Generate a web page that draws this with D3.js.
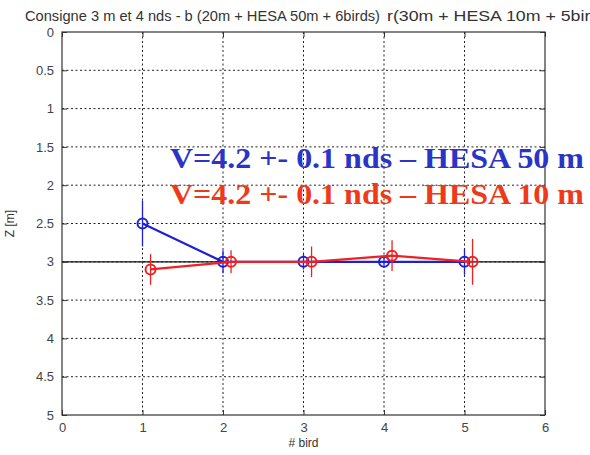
<!DOCTYPE html>
<html><head><meta charset="utf-8">
<script src="https://cdn.jsdelivr.net/npm/d3@7"></script>
<style>body{margin:0;background:#fff;} svg{display:block;}</style>
</head><body>
<svg id="c" width="590" height="455"></svg>
<script>
const xTicks = [0,1,2,3,4,5,6];
const yTicks = [0,0.5,1,1.5,2,2.5,3,3.5,4,4.5,5];
const blueX = [1,2,3,4,5];
const blueZ = [2.5,3,3,3,3];
const blueErr = [0.3,0.15,0.1,0.05,0.17];
const redX = [1.1,2.1,3.1,4.1,5.1];
const redZ = [3.1,3,3,2.92,3];
const redErr = [0.2,0.15,0.2,0.2,0.3];
const titleBlue = "Consigne 3 m et 4 nds - b (20m + HESA 50m + 6birds)";
const titleRed = "r(30m + HESA 10m + 5birds)";
const noteBlue = "V=4.2 +- 0.1 nds \u2013 HESA 50 m";
const noteRed = "V=4.2 +- 0.1 nds \u2013 HESA 10 m";

const svg = d3.select("#c");
const L=62,R=545,T=32,B=415;
const x = d3.scaleLinear().domain([0,6]).range([L,R]);
const y = d3.scaleLinear().domain([0,5]).range([T,B]);
const blue="#1f1fd6", red="#ee2222";
const fontF="Arial, Liberation Sans, sans-serif";

svg.append("text").attr("x",25).attr("y",21).attr("font-family",fontF)
  .attr("font-size",14.5).attr("fill","#333").attr("textLength",355).attr("lengthAdjust","spacingAndGlyphs").text(titleBlue);
svg.append("text").attr("x",387).attr("y",21).attr("font-family",fontF)
  .attr("font-size",14.5).attr("fill","#333").attr("textLength",228).attr("lengthAdjust","spacingAndGlyphs").text(titleRed);

// grid
const g = svg.append("g");
g.selectAll(".gx").data(xTicks.slice(1,-1)).enter().append("line")
  .attr("x1",d=>x(d)).attr("x2",d=>x(d)).attr("y1",T).attr("y2",B)
  .attr("stroke","#222").attr("stroke-width",1).attr("stroke-dasharray","2,2.5");
g.selectAll(".gy").data(yTicks.slice(1,-1)).enter().append("line")
  .attr("y1",d=>y(d)).attr("y2",d=>y(d)).attr("x1",L).attr("x2",R)
  .attr("stroke","#222").attr("stroke-width",1).attr("stroke-dasharray","2,2.5");
// z=3 line
g.append("line").attr("x1",L).attr("x2",R).attr("y1",y(3)).attr("y2",y(3)).attr("stroke","#111").attr("stroke-width",1.2);

// axes
const ax = svg.append("g").attr("transform",`translate(0,${B})`)
  .call(d3.axisBottom(x).tickValues(xTicks).tickSize(-5).tickPadding(8).tickFormat(d3.format("d")));
const ay = svg.append("g").attr("transform",`translate(${L},0)`)
  .call(d3.axisLeft(y).tickValues(yTicks).tickSize(-5).tickPadding(8).tickFormat(d=>String(d)));
[ax,ay].forEach(a=>{a.select(".domain").remove();a.selectAll("line").attr("stroke","#333");
  a.selectAll("text").attr("font-family",fontF).attr("font-size",13).attr("fill","#444");});
svg.append("g").attr("transform",`translate(0,${T})`).call(d3.axisTop(x).tickValues(xTicks).tickSize(-5).tickFormat(""))
  .call(a=>{a.select(".domain").remove();a.selectAll("line").attr("stroke","#333");});
svg.append("g").attr("transform",`translate(${R},0)`).call(d3.axisRight(y).tickValues(yTicks).tickSize(-5).tickFormat(""))
  .call(a=>{a.select(".domain").remove();a.selectAll("line").attr("stroke","#333");});
svg.append("rect").attr("x",L).attr("y",T).attr("width",R-L).attr("height",B-T)
  .attr("fill","none").attr("stroke","#333").attr("stroke-width",1.2);

svg.append("text").attr("x",(L+R)/2).attr("y",447).attr("text-anchor","middle")
  .attr("font-family",fontF).attr("font-size",12).attr("fill","#333").text("# bird");
svg.append("text").attr("transform",`translate(14,${(T+B)/2}) rotate(-90)`).attr("text-anchor","middle")
  .attr("font-family",fontF).attr("font-size",12).attr("fill","#333").text("Z [m]");

// annotations
svg.append("text").attr("x",170).attr("y",168).attr("font-family","Liberation Serif, Times New Roman, serif")
  .attr("font-weight","bold").attr("font-size",29).attr("fill","#2a35c8")
  .attr("textLength",414).attr("lengthAdjust","spacingAndGlyphs").text(noteBlue);
svg.append("text").attr("x",170).attr("y",204).attr("font-family","Liberation Serif, Times New Roman, serif")
  .attr("font-weight","bold").attr("font-size",29).attr("fill","#ee3a1a")
  .attr("textLength",414).attr("lengthAdjust","spacingAndGlyphs").text(noteRed);

function series(xs,zs,errs,col){
  const pts = xs.map((d,i)=>({x:d,z:zs[i],e:errs[i]}));
  svg.append("g").selectAll("line").data(pts).enter().append("line")
    .attr("x1",d=>x(d.x)).attr("x2",d=>x(d.x)).attr("y1",d=>y(d.z-d.e)).attr("y2",d=>y(d.z+d.e))
    .attr("stroke",col).attr("stroke-width",1.3);
  svg.append("path").datum(pts).attr("d",d3.line().x(d=>x(d.x)).y(d=>y(d.z)))
    .attr("fill","none").attr("stroke",col).attr("stroke-width",2.2);
  svg.append("g").selectAll("circle").data(pts).enter().append("circle")
    .attr("cx",d=>x(d.x)).attr("cy",d=>y(d.z)).attr("r",5)
    .attr("fill","none").attr("stroke",col).attr("stroke-width",2);
}
series(blueX,blueZ,blueErr,blue);
series(redX,redZ,redErr,red);
</script>
</body></html>
